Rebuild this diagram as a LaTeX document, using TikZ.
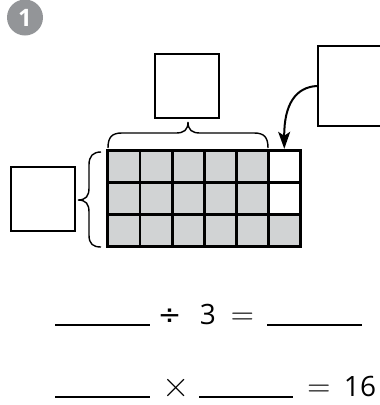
\documentclass[tikz,border=0pt]{standalone}
\usepackage{fontspec}
\newfontfamily\eqfont{Open Sans}
\newfontfamily\divfont{DejaVu Sans}
\usetikzlibrary{arrows.meta,calc}
\definecolor{cellgray}{HTML}{D1D3D4}
\definecolor{badgegray}{HTML}{939598}
\begin{document}
\begin{tikzpicture}[x=1pt,y=-1pt,
  answerbox/.style={draw=black,line width=2pt,minimum width=64pt,minimum height=64pt,inner sep=0pt},
  bracestyle/.style={draw=black,line width=1.4pt},
  blank/.style={draw=black,line width=1.6pt},
  eqtext/.style={anchor=base,inner sep=0pt,font=\eqfont\fontsize{28}{30}\selectfont},
  optext/.style={anchor=base,inner sep=0pt,font=\rmfamily\fontsize{#1}{#1}\selectfont},
  arrowstyle/.style={draw=black,line width=2pt,-{Stealth[length=17pt,width=12pt,inset=4pt]}}]
\path[use as bounding box,clip] (0,0) rectangle (380,405);
% badge
\node[circle,fill=badgegray,minimum size=36pt,inner sep=0pt] (badge) at (25,17.5) {};
\node[text=white,font=\eqfont\fontsize{24}{26}\selectfont\bfseries,inner sep=0pt] (badgenum) at (badge.center) {1};
% grid
\node[minimum width=193pt,minimum height=96pt,inner sep=0pt,fill=cellgray] (grid) at (204.5,199) {};
\fill[white] ($(grid.north west)+(160.83,0)$) rectangle ($(grid.north west)+(193,64)$);
\foreach \i in {0,...,6} {
  \draw[line width=2.8pt,line cap=rect] ($(grid.north west)+(\i*32.1667,0)$) -- ($(grid.north west)+(\i*32.1667,96)$);
}
\foreach \j in {0,...,3} {
  \draw[line width=2.8pt,line cap=rect] ($(grid.north west)+(0,\j*32)$) -- ($(grid.north west)+(193,\j*32)$);
}
% boxes
\node[answerbox] (topbox) at (187,86) {};
\node[answerbox] (leftbox) at (43,199) {};
\node[draw=black,line width=2pt,minimum width=80pt,minimum height=80pt,inner sep=0pt,anchor=west] (rightbox) at (317,86) {};
% braces
\path[bracestyle] (108,148) .. controls (108,137) and (112,133) .. (122,133) -- (176,133) .. controls (184,133) and (188,130) .. (188,122) .. controls (188,130) and (192,133) .. (200,133) -- (254,133) .. controls (264,133) and (268,137) .. (268,148);
\path[bracestyle] (101,152) .. controls (93,152) and (89,156) .. (89,165) -- (89,188) .. controls (89,196) and (86,200) .. (78,200) .. controls (86,200) and (89,204) .. (89,212) -- (89,235) .. controls (89,244) and (93,247) .. (101,247);
% arrow
\coordinate (tip) at ($(grid.north west)+(176.5,-2)$);
\path[arrowstyle] (rightbox.west) .. controls (296,87) and (284,104) .. (tip);
% equations line 1
\coordinate (b1s) at (55,325); \coordinate (b1e) at (150,325);
\path[blank] (b1s) -- (b1e);
\node[anchor=base,inner sep=0pt,font=\divfont\fontsize{28}{30}\selectfont] (div) at (169.5,324.5) {÷};
\node[eqtext] (three) at (208,324.5) {3};
\node[optext=32] (eq1) at (242.5,324.5) {=};
\coordinate (b2s) at (267,325); \coordinate (b2e) at (362,325);
\path[blank] (b2s) -- (b2e);
% equations line 2
\coordinate (b3s) at (55,397); \coordinate (b3e) at (150,397);
\path[blank] (b3s) -- (b3e);
\node[optext=38] (times) at (176,397.5) {×};
\coordinate (b4s) at (199,397); \coordinate (b4e) at (293,397);
\path[blank] (b4s) -- (b4e);
\node[optext=32] (eq2) at (319,396) {=};
\node[eqtext] (sixteen) at (360,396) {16};
\end{tikzpicture}
\end{document}
